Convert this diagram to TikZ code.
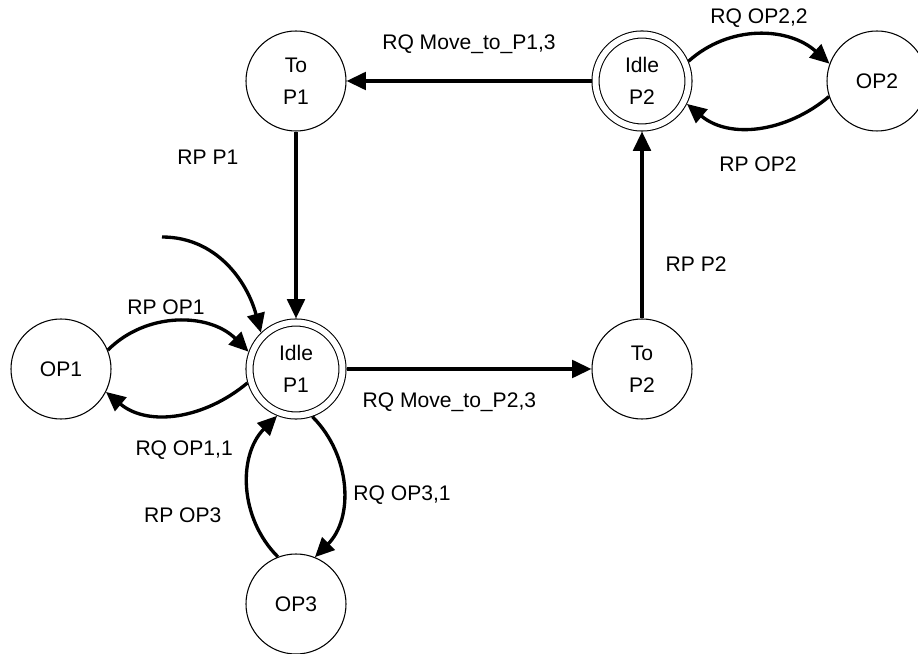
\documentclass[tikz,border=0pt]{standalone}
\usepackage{fontspec}
\setmainfont{Liberation Sans}
\usetikzlibrary{positioning, arrows.meta}

\begin{document}
\begin{tikzpicture}[
    on grid,
    font=\fontsize{12pt}{18pt}\selectfont,
    state/.style={
        circle,
        draw,
        line width=0.6pt,
        minimum size=2cm,
        inner sep=0pt,
        align=center
    },
    idle/.style={
        state,
        double,
        double distance=0.12cm,
        minimum size=1.86cm,
        outer sep=0.08cm
    },
    arrow/.style={
        line width=1.9pt,
        -{Triangle[length=11pt, width=10pt]}
    },
    tag/.style={
        inner sep=0pt,
        text height=.72em,
        text depth=0pt
    }
]

\useasboundingbox (-5.92,-5.7) rectangle (12.44,7.38);

\node[idle] (idleone) {Idle\\P1};

\node[state, above=5.76cm of idleone] (toone) {To\\P1};
\node[state, left=4.7cm of idleone] (opone) {OP1};
\node[state, below=4.7cm of idleone] (opthree) {OP3};
\node[state, right=6.92cm of idleone] (totwo) {To\\P2};
\node[idle, above=5.76cm of totwo] (idletwo) {Idle\\P2};
\node[state, right=4.7cm of idletwo] (optwo) {OP2};

\coordinate (entry) at (-2.68,2.64);


\draw[arrow]
(idletwo) --
node[tag, midway, above=0.6cm]{RQ Move\_to\_P1,3}
(toone);

\draw[arrow]
(toone) --
node[tag, pos=0.14, left=1.12cm]{RP P1}
(idleone);

\draw[arrow]
(idleone) --
node[tag, pos=0.42, below=0.48cm]{RQ Move\_to\_P2,3}
(totwo);

\draw[arrow]
(totwo) --
node[tag, pos=0.285, right=0.44cm]{RP P2}
(idletwo);


\draw[arrow]
(idletwo.23) to[out=42, in=138]
node[tag, midway, above=0.2cm]{RQ OP2,2}
(optwo.160);

\draw[arrow]
(optwo.198) to[out=220, in=320]
node[tag, midway, below=0.6cm]{RP OP2}
(idletwo.333);


\draw[arrow]
(entry) to[out=0, in=105]
(idleone.134);

\draw[arrow]
(opone.22) to[out=45, in=135]
node[tag, pos=0.42, above=0.12cm]{RP OP1}
(idleone.160);

\draw[arrow]
(idleone.196) to[out=220, in=320]
node[tag, pos=0.45, below=0.56cm]{RQ OP1,1}
(opone.333);

\draw[arrow]
(idleone.289) to[out=-45, in=45]
node[tag, pos=0.55, right=0.18cm]{RQ OP3,1}
(opthree.68);

\draw[arrow]
(opthree.111) to[out=135, in=225]
node[tag, pos=0.3, left=0.6cm]{RP OP3}
(idleone.248);


\end{tikzpicture}
\end{document}
